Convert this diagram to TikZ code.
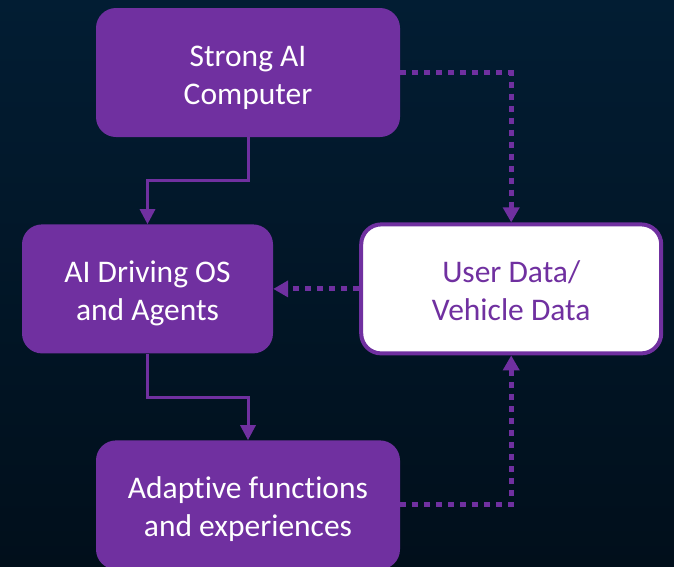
\documentclass[tikz,border=0pt]{standalone}
\usepackage{fontspec}
\setmainfont{Carlito}[Ligatures=NoCommon]
\usepackage{xcolor}
\usepackage{tikz}
\usetikzlibrary{arrows.meta,positioning}

\definecolor{aipurple}{HTML}{7030A0}
\definecolor{bgtop}{HTML}{021D33}
\definecolor{bgbottom}{HTML}{010F1B}

\begin{document}
\begin{tikzpicture}[
    x=1pt, y=-1pt,
    box/.style={rectangle, fill=aipurple, text=white, align=center, rounded corners=20pt, minimum width=304pt, minimum height=129pt, inner sep=0pt, font=\fontsize{31.5}{38}\selectfont,
        execute at begin node={\rule{0pt}{71pt}}, execute at end node={\rule[-8pt]{0pt}{8pt}}},
    databox/.style={box, draw=aipurple, line width=4pt, fill=white, text=aipurple, minimum width=300pt},
    arrow/.style={-{Triangle[width=15pt,length=15pt]}, line width=3pt, color=aipurple},
    dotarrow/.style={-{Triangle[width=16pt,length=15pt]}, line width=5pt, dash pattern=on 6pt off 6pt, color=aipurple}
]

% Background
\fill[top color=bgtop, bottom color=bgbottom] (0,0) rectangle (674,566);
\useasboundingbox (0,0) rectangle (674,566);

% Nodes
\node[box] (computer) at (248,72.5) {Strong AI\\Computer};
\node[box, minimum width=251pt, below=87pt of computer, xshift=-100.5pt] (driving) {AI Driving OS\\and Agents};
\node[databox, right=86pt of driving] (userdata) {User Data/\\Vehicle Data};
\node[box, below=303pt of computer] (adaptive) {Adaptive functions\\and experiences};

% Edges
\draw[arrow] (computer.south) -- ++(0,43.5) -| (driving.north);
\draw[arrow] (driving.south) -- ++(0,43.5) -| (adaptive.north);
\draw[dotarrow] (computer.east) -| (userdata.north);
\draw[dotarrow] (userdata.west) -- (driving.east);
\draw[dotarrow] (adaptive.east) -| (userdata.south);

\end{tikzpicture}
\end{document}
